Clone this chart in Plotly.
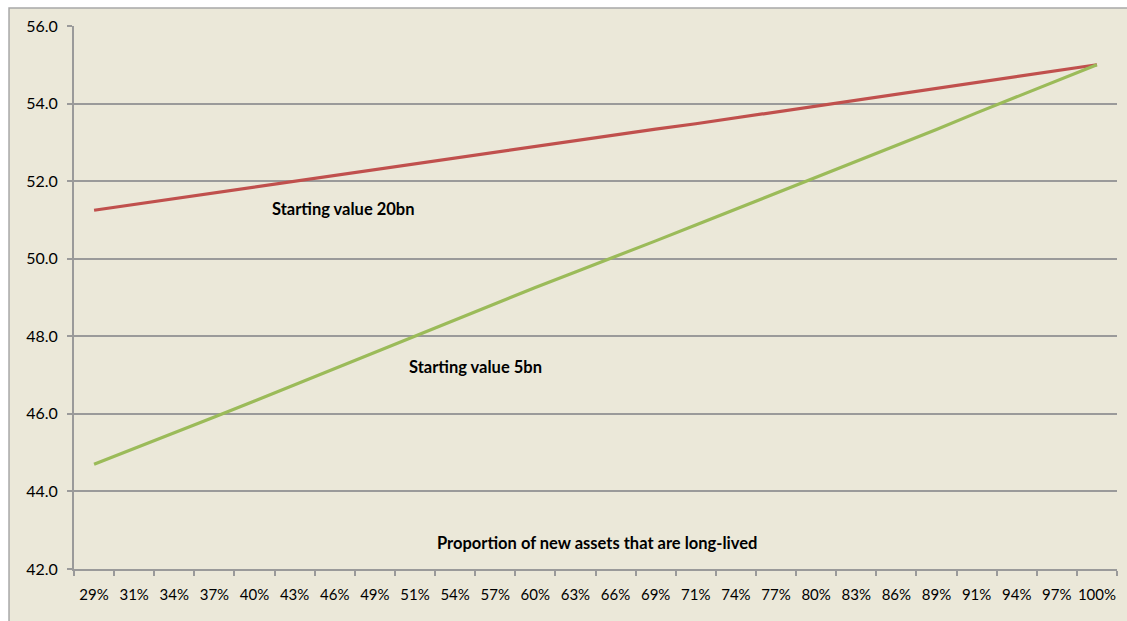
import plotly.graph_objects as go

# Share of new assets that are long-lived (category axis)
categories = ["29%", "31%", "34%", "37%", "40%", "43%", "46%", "49%", "51%",
              "54%", "57%", "60%", "63%", "66%", "69%", "71%", "74%", "77%",
              "80%", "83%", "86%", "89%", "91%", "94%", "97%", "100%"]

# Series: starting value 20bn
start_20bn = [51.25, 51.40, 51.55, 51.70, 51.85, 52.00, 52.15, 52.30, 52.45,
              52.60, 52.75, 52.89, 53.04, 53.19, 53.34, 53.48, 53.63, 53.78,
              53.93, 54.08, 54.23, 54.39, 54.54, 54.69, 54.84, 55.00]

# Series: starting value 5bn
start_5bn = [44.70, 45.10, 45.52, 45.92, 46.33, 46.75, 47.17, 47.58, 48.02,
             48.44, 48.85, 49.26, 49.66, 50.05, 50.46, 50.87, 51.28, 51.68,
             52.09, 52.51, 52.92, 53.33, 53.76, 54.18, 54.59, 55.00]

y_ticks = [42.0, 44.0, 46.0, 48.0, 50.0, 52.0, 54.0, 56.0]

BG = "#EBE8D9"
GRID = "#9A9A9A"
FONT = "Lato, 'Open Sans', sans-serif"

fig = go.Figure()
fig.add_trace(go.Scatter(x=categories, y=start_20bn, mode="lines",
                         line=dict(color="#C0504D", width=3.2),
                         name="Starting value 20bn", showlegend=False))
fig.add_trace(go.Scatter(x=categories, y=start_5bn, mode="lines",
                         line=dict(color="#9BBB59", width=3.2),
                         name="Starting value 5bn", showlegend=False))

# Chart-area frame
fig.add_shape(type="rect", xref="paper", yref="paper",
              x0=-0.0623, x1=1.02, y0=-0.12, y1=1.0331,
              fillcolor=BG, line=dict(color="#A8A8A8", width=1.5),
              layer="below")

label_font = dict(family=FONT, size=16.5, color="#000000")
fig.add_annotation(text="<b>Starting value 20bn</b>", xref="paper", yref="paper",
                   x=0.258, y=0.663, showarrow=False, font=label_font,
                   xanchor="center", yanchor="middle")
fig.add_annotation(text="<b>Starting value 5bn</b>", xref="paper", yref="paper",
                   x=0.385, y=0.372, showarrow=False, font=label_font,
                   xanchor="center", yanchor="middle")
fig.add_annotation(text="<b>Proportion of new assets that are long-lived</b>",
                   xref="paper", yref="paper", x=0.501, y=0.048,
                   showarrow=False, font=label_font,
                   xanchor="center", yanchor="middle")

fig.update_xaxes(type="category", range=[-0.5, len(categories) - 0.5],
                 showgrid=False, showline=True, linecolor=GRID, linewidth=2,
                 ticks="outside", tickson="boundaries", ticklen=5,
                 tickcolor=GRID, tickwidth=1.5, ticklabelstandoff=11,
                 tickangle=0, automargin=False,
                 tickfont=dict(family=FONT, size=15, color="#000000"),
                 zeroline=False, fixedrange=True)
fig.update_yaxes(range=[42, 56], tickvals=y_ticks,
                 ticktext=[f"{v:.1f}" for v in y_ticks],
                 showgrid=True, gridcolor=GRID, gridwidth=1.5,
                 showline=True, linecolor=GRID, linewidth=2,
                 ticks="outside", ticklen=5, tickcolor=GRID, tickwidth=1.5,
                 ticklabelstandoff=6, automargin=False,
                 tickfont=dict(family=FONT, size=16, color="#000000"),
                 zeroline=False, fixedrange=True)

fig.update_layout(width=1127, height=621, autosize=False,
                  margin=dict(l=74, r=10, t=26, b=52),
                  paper_bgcolor="white", plot_bgcolor=BG,
                  showlegend=False)

fig.write_html("out.html")
